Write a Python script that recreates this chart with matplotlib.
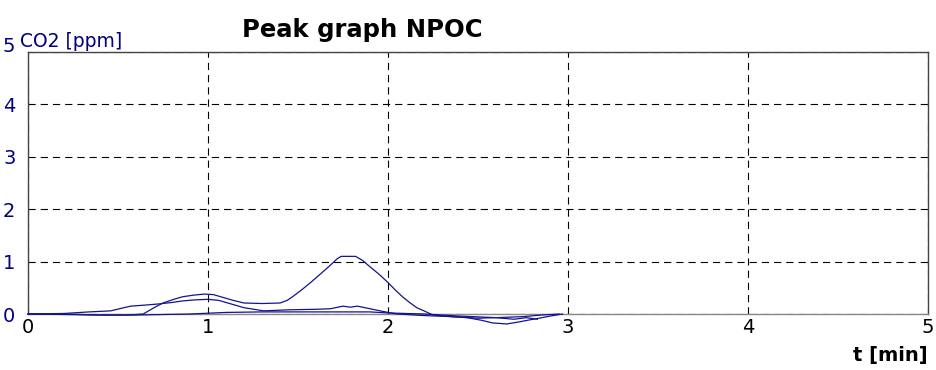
import numpy as np
import matplotlib
matplotlib.use("Agg")
import matplotlib.pyplot as plt
import matplotlib.transforms as mtransforms

# data (t in min, CO2 in ppm)
t_peak1 = [0, 0.2, 0.4, 0.55, 0.64, 0.7, 0.75, 0.81, 0.86, 0.92, 0.98, 1.03, 1.08, 1.14,
           1.2, 1.3, 1.4, 1.44, 1.47, 1.52, 1.57, 1.62, 1.66, 1.72, 1.74, 1.82, 1.86,
           1.9, 1.95, 2.0, 2.04, 2.08, 2.12, 2.16, 2.2, 2.25, 2.35, 2.44, 2.52, 2.58,
           2.66, 2.73, 2.79, 2.84, 2.9, 2.97]
co2_peak1 = [0, -0.01, -0.02, -0.02, 0.0, 0.12, 0.21, 0.28, 0.33, 0.36, 0.38, 0.37, 0.32, 0.26,
             0.21, 0.2, 0.21, 0.26, 0.33, 0.46, 0.6, 0.75, 0.87, 1.06, 1.1, 1.1, 1.02,
             0.9, 0.76, 0.6, 0.46, 0.33, 0.22, 0.12, 0.06, -0.02, -0.05, -0.07, -0.12, -0.17,
             -0.19, -0.15, -0.11, -0.08, -0.04, 0.0]

t_peak2 = [0, 0.2, 0.34, 0.46, 0.52, 0.57, 0.65, 0.72, 0.8, 0.86, 0.93, 1.0, 1.06, 1.12,
           1.2, 1.31, 1.45, 1.6, 1.68, 1.75, 1.79, 1.83, 1.9, 1.97, 2.05, 2.2, 2.35, 2.5,
           2.6, 2.7, 2.77, 2.83]
co2_peak2 = [0, 0.01, 0.04, 0.06, 0.11, 0.15, 0.17, 0.19, 0.22, 0.25, 0.27, 0.28, 0.26, 0.2,
             0.12, 0.06, 0.08, 0.09, 0.1, 0.15, 0.13, 0.15, 0.1, 0.05, 0.0, -0.03, -0.05,
             -0.08, -0.07, -0.1, -0.07, -0.1]

t_peak3 = [0, 0.2, 0.4, 0.6, 0.75, 0.9, 1.1, 1.3, 1.6, 1.9, 2.0, 2.2, 2.4, 2.6,
           2.75, 2.85, 2.95]
co2_peak3 = [0, 0.0, -0.02, -0.02, -0.01, 0.0, 0.03, 0.04, 0.04, 0.04, 0.02, 0.0, -0.04,
             -0.07, -0.05, -0.02, 0.0]

x_ticks = [0, 1, 2, 3, 4, 5]
y_ticks = [0, 1, 2, 3, 4, 5]

navy = '#000080'
line_col = '#14148c'

fig = plt.figure(figsize=(9.36, 3.70), dpi=100)
ax = fig.add_axes([28 / 936, 1 - 314 / 370, 900 / 936, 262 / 370])

for t, c in [(t_peak1, co2_peak1), (t_peak2, co2_peak2), (t_peak3, co2_peak3)]:
    ax.plot(t, c, color=line_col, linewidth=0.9, clip_on=False, zorder=3)

ax.set_xlim(0, 5)
ax.set_ylim(0, 5)
ax.set_xticks(x_ticks)
ax.set_yticks(y_ticks)
ax.tick_params(length=0, labelsize=14)
ax.tick_params(axis='y', colors=navy, pad=9)
ax.tick_params(axis='x', colors='black', pad=3)

# dashed grid
ax.grid(True, color='black', linestyle=(0, (6.5, 4.5)), linewidth=0.8)

for side in ['left', 'top', 'right', 'bottom']:
    ax.spines[side].set_color('#444444')
    ax.spines[side].set_linewidth(1.0)
ax.spines['bottom'].set_color('#888888')

# top "5" label sits a little higher
last = ax.get_yticklabels()[-1]
last.set_transform(last.get_transform() + mtransforms.ScaledTranslation(0, 7 / 100, fig.dpi_scale_trans))

fig.text(20 / 936, 1 - 47 / 370, 'CO2 [ppm]', color=navy, fontsize=13.5, ha='left', va='baseline')
fig.text(362 / 936, 1 - 37 / 370, 'Peak graph NPOC', color='black', fontsize=17.5,
         fontweight='bold', ha='center', va='baseline')
fig.text(928 / 936, 1 - 361 / 370, 't [min]', color='black', fontsize=14,
         fontweight='bold', ha='right', va='baseline')

fig.savefig('out.png', dpi=100)
